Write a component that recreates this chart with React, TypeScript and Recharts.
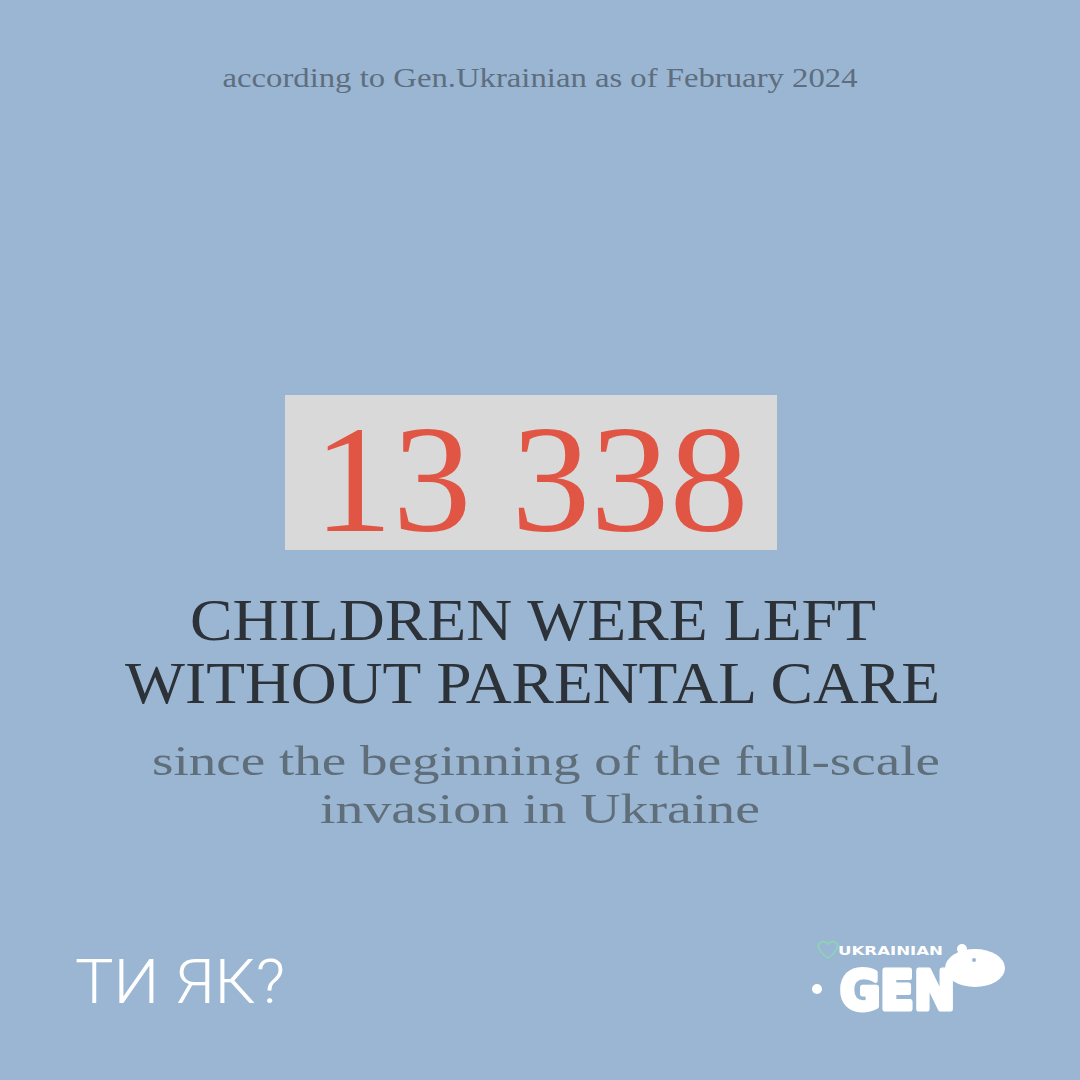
import { ComposedChart } from 'recharts';

// infographic content
const source = 'according to Gen.Ukrainian as of February 2024';
const stat = [{ key: 'children', value: 13338 }];
const headline = ['CHILDREN WERE LEFT', 'WITHOUT PARENTAL CARE'];
const subline = ['since the beginning of the full-scale', 'invasion in Ukraine'];
const brandLeft = 'ТИ ЯК?';
const brandRight = ['UKRAINIAN', 'GEN'];

const W = 1080;
const H = 1080;
const BG = '#9ab6d2';

const formatStat = (v: number) => v.toLocaleString('en-US').replace(/,/g, ' ');

const serif = '"Liberation Serif", "DejaVu Serif", serif';

export default function App() {
  return (
    <div style={{ position: 'absolute', left: 0, top: 0, width: W, height: H, background: BG }}>
      <ComposedChart width={W} height={H} data={stat} margin={{ top: 0, right: 0, bottom: 0, left: 0 }}>
        <rect x={0} y={0} width={W} height={H} fill={BG} />

        <text x={540} y={87} textAnchor="middle" fontFamily={serif} fontSize={27} fill="#5e6e7f"
          textLength={635} lengthAdjust="spacingAndGlyphs">
          {source}
        </text>

        <rect x={285} y={395} width={492} height={155} fill="#d9d9d9" />
        <text x={531} y={531} textAnchor="middle" fontFamily={serif} fontSize={152} fill="#e05544"
          textLength={435} lengthAdjust="spacingAndGlyphs">
          {formatStat(stat[0].value)}
        </text>

        <text x={533} y={640} textAnchor="middle" fontFamily={serif} fontSize={60} fill="#2d3238"
          textLength={686} lengthAdjust="spacingAndGlyphs">
          {headline[0]}
        </text>
        <text x={532.5} y={703} textAnchor="middle" fontFamily={serif} fontSize={60} fill="#2d3238"
          textLength={815} lengthAdjust="spacingAndGlyphs">
          {headline[1]}
        </text>

        <text x={546} y={775} textAnchor="middle" fontFamily={serif} fontSize={42} fill="#5f6e79"
          textLength={788} lengthAdjust="spacingAndGlyphs">
          {subline[0]}
        </text>
        <text x={540} y={823} textAnchor="middle" fontFamily={serif} fontSize={42} fill="#5f6e79"
          textLength={440} lengthAdjust="spacingAndGlyphs">
          {subline[1]}
        </text>

        <text x={75} y={1003} fontFamily="Roboto, sans-serif" fontWeight={300} fontSize={62} fill="#ffffff"
          textLength={210} lengthAdjust="spacingAndGlyphs">
          {brandLeft}
        </text>

        {/* Gen.Ukrainian logo, rough shapes */}
        <g>
          <path d="M818 946 q4 -8 10 -2 q6 -6 10 2 q-3 8 -10 12 q-7 -4 -10 -12z" fill="none" stroke="#8fd0b8" strokeWidth={2} />
          <ellipse cx={975} cy={968} rx={30} ry={19} fill="#ffffff" />
          <ellipse cx={962} cy={949} rx={5} ry={5} fill="#ffffff" />
          <circle cx={974} cy={960} r={2} fill="#9ab6d2" />
          <circle cx={817} cy={989} r={5} fill="#ffffff" />
          <text x={838} y={955} fontFamily='"DejaVu Sans", sans-serif' fontWeight={900} fontSize={13} fill="#ffffff"
            textLength={105} lengthAdjust="spacingAndGlyphs">
            {brandRight[0]}
          </text>
          <text x={840} y={1009} fontFamily='"DejaVu Sans", sans-serif' fontWeight={900} fontSize={54} fill="#ffffff"
            stroke="#ffffff" strokeWidth={5} strokeLinejoin="round"
            textLength={115} lengthAdjust="spacingAndGlyphs">
            {brandRight[1]}
          </text>
        </g>
      </ComposedChart>
    </div>
  );
}
